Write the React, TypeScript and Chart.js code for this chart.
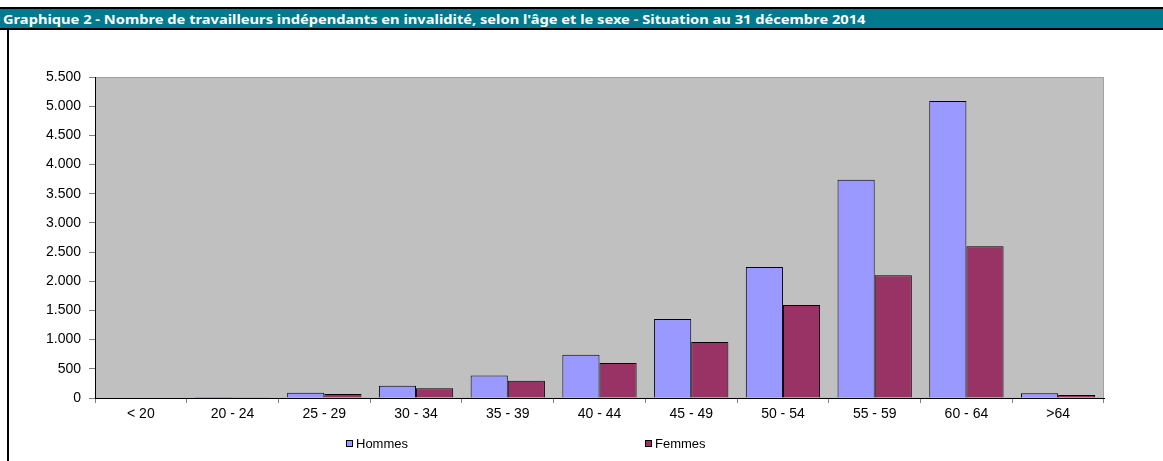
import React, { useEffect, useRef } from "react";
import { Chart, registerables } from "chart.js";

Chart.register(...registerables);

const TITLE =
  "Graphique 2 - Nombre de travailleurs indépendants en invalidité, selon l'âge et le sexe - Situation au 31 décembre 2014";
const categories = ["< 20", "20 - 24", "25 - 29", "30 - 34", "35 - 39", "40 - 44", "45 - 49", "50 - 54", "55 - 59", "60 - 64", ">64"];
const hommes = [0, 15, 90, 210, 385, 740, 1355, 2245, 3738, 5090, 80];
const femmes = [0, 12, 68, 166, 295, 600, 960, 1593, 2105, 2600, 50];
const seriesNames = ["Hommes", "Femmes"];
const yTicks = [0, 500, 1000, 1500, 2000, 2500, 3000, 3500, 4000, 4500, 5000, 5500];

const COLOR_H = "#9999FF";
const COLOR_F = "#993366";
const FONT = "'Liberation Sans', Arial, sans-serif";

const fmt = (v: number) => String(v).replace(/\B(?=(\d{3})+(?!\d))/g, ".");

const plotBg = {
  id: "plotBg",
  beforeDraw(chart: any) {
    const { ctx, chartArea: a } = chart;
    ctx.save();
    ctx.fillStyle = "#C0C0C0";
    ctx.fillRect(a.left, a.top, a.right - a.left, a.bottom - a.top);
    ctx.strokeStyle = "#A0A0A0";
    ctx.lineWidth = 1;
    ctx.beginPath();
    ctx.moveTo(a.left, a.top + 0.5);
    ctx.lineTo(a.right - 0.5, a.top + 0.5);
    ctx.lineTo(a.right - 0.5, a.bottom);
    ctx.stroke();
    ctx.restore();
  },
};

export default function App() {
  const ref = useRef<HTMLCanvasElement>(null);
  const titleRef = useRef<HTMLSpanElement>(null);
  useEffect(() => {
    if (titleRef.current) {
      const w = titleRef.current.offsetWidth;
      if (w > 0) titleRef.current.style.transform = `scaleX(${863 / w})`;
    }
    if (!ref.current) return;
    const chart = new Chart(ref.current, {
      type: "bar",
      data: {
        labels: categories,
        datasets: [
          { label: seriesNames[0], data: hommes, backgroundColor: COLOR_H, borderColor: "#000", borderWidth: 1, categoryPercentage: 0.81, barPercentage: 1 },
          { label: seriesNames[1], data: femmes, backgroundColor: COLOR_F, borderColor: "#000", borderWidth: 1, categoryPercentage: 0.81, barPercentage: 1 },
        ],
      },
      options: {
        animation: false,
        responsive: false,
        maintainAspectRatio: false,
        layout: { padding: { left: 0, right: 59, top: 77, bottom: 33 } },
        plugins: { legend: { display: false }, tooltip: { enabled: false }, title: { display: false } },
        scales: {
          x: {
            grid: { display: true, drawOnChartArea: false, drawTicks: true, tickLength: 5, color: "#808080", offset: true },
            border: { display: true, color: "#000", width: 1 },
            ticks: { color: "#000", font: { family: FONT, size: 14 }, padding: 3, maxRotation: 0, autoSkip: false },
            afterFit: (s: any) => { s.height = 30; },
          },
          y: {
            min: 0,
            max: 5500,
            afterBuildTicks: (s: any) => { s.ticks = yTicks.map((v) => ({ value: v })); },
            grid: { display: true, drawOnChartArea: false, drawTicks: true, tickLength: 6, color: "#808080" },
            border: { display: true, color: "#000", width: 1 },
            ticks: { color: "#000", font: { family: FONT, size: 14 }, padding: 8, callback: (v: any) => fmt(Number(v)) },
            afterFit: (s: any) => { s.width = 95; },
          },
        },
      },
      plugins: [plotBg],
    });
    return () => chart.destroy();
  }, []);

  const legendItem = (left: number, color: string, name: string) => (
    <div style={{ position: "absolute", left, top: 436, fontFamily: FONT, fontSize: 13, lineHeight: "15px", color: "#000", whiteSpace: "nowrap" }}>
      <span style={{ display: "inline-block", width: 5, height: 5, background: color, border: "1px solid #000", marginRight: 3, verticalAlign: "1px" }} />
      {name}
    </div>
  );

  return (
    <div style={{ position: "fixed", left: 0, top: 0, width: 1163, height: 461, background: "#fff", overflow: "hidden" }}>
      <canvas ref={ref} width={1163} height={461} style={{ position: "absolute", left: 0, top: 0, width: 1163, height: 461 }} />
      <div style={{ position: "absolute", left: 0, top: 7, width: 1163, height: 19, background: "#007A8C", borderTop: "2px solid #000", borderBottom: "2px solid #000" }}>
        <span ref={titleRef} style={{ position: "absolute", left: 3, top: 2, color: "#fff", fontFamily: "'Noto Sans', sans-serif", fontWeight: 700, fontSize: 12.5, lineHeight: "17px", whiteSpace: "nowrap", transformOrigin: "left center" }}>{TITLE}</span>
      </div>
      <div style={{ position: "absolute", left: 7, top: 30, width: 2, height: 431, background: "#000" }} />
      {legendItem(346, COLOR_H, seriesNames[0])}
      {legendItem(645, COLOR_F, seriesNames[1])}
    </div>
  );
}
